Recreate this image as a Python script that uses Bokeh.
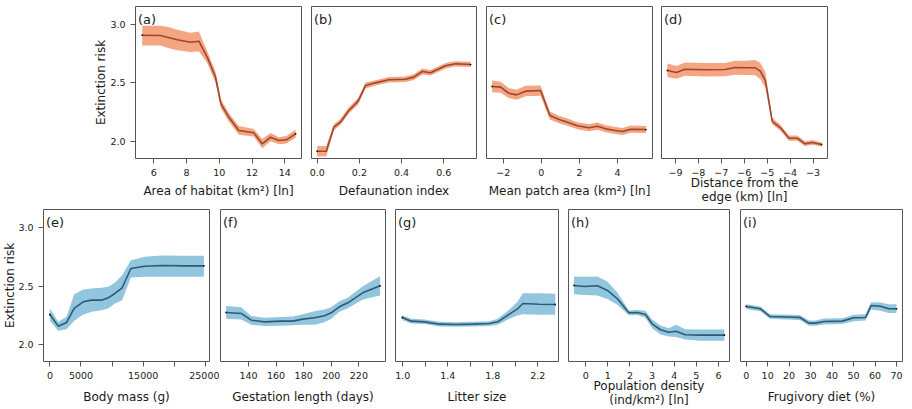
from bokeh.plotting import figure
from bokeh.layouts import row, column
from bokeh.models import Range1d, FixedTicker, Label
from bokeh.embed import file_html
from bokeh.resources import INLINE

# ---------------- data ----------------
# (a) Area of habitat (km2) [ln]
x_a = [5.29, 6.41, 6.82, 7.43, 8.24, 8.75, 9.26, 9.77, 10.1, 10.58, 11.19, 12.1, 12.62, 13.13, 13.64, 14.1, 14.66]
y_a = [2.908, 2.906, 2.89, 2.869, 2.848, 2.857, 2.72, 2.548, 2.32, 2.206, 2.092, 2.072, 1.978, 2.034, 2.006, 2.012, 2.063]
lo_a = [2.82, 2.82, 2.80, 2.78, 2.765, 2.77, 2.67, 2.50, 2.28, 2.17, 2.055, 2.04, 1.94, 2.00, 1.975, 1.98, 2.03]
hi_a = [2.99, 2.99, 2.98, 2.955, 2.93, 2.94, 2.77, 2.595, 2.36, 2.24, 2.13, 2.105, 2.02, 2.07, 2.035, 2.045, 2.10]

# (b) Defaunation index
x_b = [0.0, 0.043, 0.079, 0.11, 0.15, 0.194, 0.229, 0.276, 0.339, 0.418, 0.458, 0.498, 0.537, 0.608, 0.655, 0.727]
y_b = [1.914, 1.914, 2.12, 2.163, 2.263, 2.343, 2.477, 2.50, 2.526, 2.531, 2.549, 2.597, 2.586, 2.646, 2.663, 2.657]
lo_b = [1.87, 1.87, 2.095, 2.138, 2.238, 2.315, 2.452, 2.477, 2.503, 2.508, 2.525, 2.572, 2.562, 2.622, 2.64, 2.635]
hi_b = [1.96, 1.96, 2.145, 2.19, 2.29, 2.37, 2.502, 2.523, 2.55, 2.555, 2.573, 2.622, 2.61, 2.67, 2.686, 2.68]

# (c) Mean patch area (km2) [ln]
x_c = [-2.58, -2.14, -1.71, -1.30, -0.83, -0.04, 0.45, 0.93, 1.37, 1.89, 2.5, 2.95, 3.38, 3.82, 4.26, 4.7, 5.49]
y_c = [2.469, 2.463, 2.411, 2.397, 2.429, 2.434, 2.22, 2.186, 2.163, 2.132, 2.115, 2.129, 2.106, 2.094, 2.083, 2.103, 2.10]
lo_c = [2.42, 2.415, 2.37, 2.355, 2.385, 2.39, 2.185, 2.155, 2.133, 2.102, 2.085, 2.099, 2.076, 2.064, 2.053, 2.072, 2.07]
hi_c = [2.52, 2.51, 2.455, 2.44, 2.475, 2.478, 2.255, 2.218, 2.194, 2.162, 2.145, 2.16, 2.136, 2.124, 2.113, 2.135, 2.13]

# (d) Distance from the edge (km) [ln]
x_d = [-9.35, -8.96, -8.59, -7.71, -6.83, -6.40, -5.96, -5.52, -5.30, -5.08, -4.78, -4.42, -4.05, -3.69, -3.35, -3.03, -2.63]
y_d = [2.606, 2.589, 2.617, 2.612, 2.614, 2.632, 2.629, 2.629, 2.60, 2.52, 2.171, 2.115, 2.026, 2.026, 1.978, 1.989, 1.972]
lo_d = [2.55, 2.535, 2.56, 2.555, 2.557, 2.57, 2.567, 2.565, 2.53, 2.46, 2.145, 2.09, 2.005, 2.005, 1.958, 1.97, 1.955]
hi_d = [2.665, 2.645, 2.675, 2.67, 2.67, 2.69, 2.69, 2.695, 2.67, 2.59, 2.2, 2.14, 2.05, 2.048, 2.0, 2.01, 1.99]

# (e) Body mass (g)
x_e = [0, 1340, 2680, 3900, 5360, 6690, 8300, 9370, 10450, 11620, 13020, 15270, 17940, 21700, 24760]
y_e = [2.257, 2.157, 2.189, 2.309, 2.366, 2.38, 2.38, 2.40, 2.437, 2.486, 2.651, 2.671, 2.677, 2.674, 2.674]
lo_e = [2.203, 2.117, 2.131, 2.203, 2.257, 2.28, 2.294, 2.308, 2.351, 2.38, 2.574, 2.58, 2.58, 2.58, 2.58]
hi_e = [2.308, 2.194, 2.237, 2.431, 2.471, 2.48, 2.486, 2.494, 2.529, 2.594, 2.722, 2.751, 2.763, 2.76, 2.76]

# (f) Gestation length (days)
x_f = [123.8, 134.7, 142, 151.6, 163.7, 172.1, 179.4, 187.8, 195.1, 199.9, 205.9, 212, 222.8, 235.4]
y_f = [2.274, 2.266, 2.208, 2.194, 2.2, 2.2, 2.217, 2.229, 2.246, 2.271, 2.323, 2.357, 2.443, 2.503]
lo_f = [2.22, 2.215, 2.17, 2.158, 2.16, 2.165, 2.17, 2.17, 2.19, 2.22, 2.28, 2.31, 2.385, 2.42]
hi_f = [2.33, 2.32, 2.245, 2.23, 2.235, 2.24, 2.26, 2.285, 2.30, 2.32, 2.37, 2.40, 2.50, 2.585]

# (g) Litter size
x_g = [0.995, 1.075, 1.193, 1.327, 1.475, 1.623, 1.771, 1.845, 1.949, 2.023, 2.068, 2.216, 2.356]
y_g = [2.231, 2.2, 2.194, 2.174, 2.171, 2.174, 2.18, 2.194, 2.26, 2.308, 2.351, 2.345, 2.343]
lo_g = [2.21, 2.18, 2.175, 2.155, 2.152, 2.155, 2.158, 2.168, 2.22, 2.25, 2.26, 2.255, 2.255]
hi_g = [2.25, 2.22, 2.213, 2.194, 2.19, 2.195, 2.2, 2.22, 2.30, 2.37, 2.44, 2.44, 2.435]

# (h) Population density (ind/km2) [ln]
x_h = [-0.53, -0.07, 0.53, 0.98, 1.43, 1.95, 2.33, 2.70, 3.0, 3.38, 3.75, 4.08, 4.5, 5.18, 6.27]
y_h = [2.506, 2.497, 2.503, 2.463, 2.392, 2.272, 2.274, 2.257, 2.177, 2.126, 2.105, 2.114, 2.083, 2.08, 2.08]
lo_h = [2.43, 2.425, 2.42, 2.39, 2.34, 2.25, 2.252, 2.23, 2.14, 2.085, 2.068, 2.063, 2.043, 2.032, 2.032]
hi_h = [2.583, 2.58, 2.583, 2.54, 2.445, 2.292, 2.296, 2.29, 2.215, 2.163, 2.14, 2.169, 2.13, 2.128, 2.128]

# (i) Frugivory diet (%)
x_i = [0, 6.66, 11, 16, 25, 29.2, 32.3, 36.2, 44.7, 50.1, 55.6, 58.2, 62.5, 66.4, 70]
y_i = [2.326, 2.306, 2.24, 2.237, 2.231, 2.183, 2.183, 2.197, 2.2, 2.229, 2.231, 2.334, 2.328, 2.306, 2.306]
lo_i = [2.305, 2.285, 2.22, 2.217, 2.21, 2.16, 2.16, 2.172, 2.175, 2.2, 2.205, 2.3, 2.29, 2.27, 2.27]
hi_i = [2.345, 2.325, 2.26, 2.257, 2.252, 2.205, 2.205, 2.222, 2.225, 2.255, 2.258, 2.362, 2.36, 2.345, 2.345]

# tick positions and labels
y_ticks = [2.0, 2.5, 3.0]
y_tick_labels = ["2.0", "2.5", "3.0"]
ticks_a = [6, 8, 10, 12, 14]
labels_a = ["6", "8", "10", "12", "14"]
ticks_b = [0.0, 0.2, 0.4, 0.6]
labels_b = ["0.0", "0.2", "0.4", "0.6"]
ticks_c = [-2, 0, 2, 4]
labels_c = ["\u22122", "0", "2", "4"]
ticks_d = [-9, -8, -7, -6, -5, -4, -3]
labels_d = ["\u22129", "\u22128", "\u22127", "\u22126", "\u22125", "\u22124", "\u22123"]
ticks_e = [0, 5000, 10000, 15000, 20000, 25000]
labels_e = ["0", "5000", "", "15000", "", "25000"]
ticks_f = [140, 160, 180, 200, 220]
labels_f = ["140", "160", "180", "200", "220"]
ticks_g = [1.0, 1.2, 1.4, 1.6, 1.8, 2.0, 2.2, 2.4]
labels_g = ["1.0", "", "1.4", "", "1.8", "", "2.2", ""]
ticks_h = [0, 1, 2, 3, 4, 5, 6]
labels_h = ["0", "1", "2", "3", "4", "5", "6"]
ticks_i = [0, 10, 20, 30, 40, 50, 60, 70]
labels_i = ["0", "10", "20", "30", "40", "50", "60", "70"]

x_titles = {
    "a": "Area of habitat (km\u00b2) [ln]",
    "b": "Defaunation index",
    "c": "Mean patch area (km\u00b2) [ln]",
    "d": "Distance from the\nedge (km) [ln]",
    "e": "Body mass (g)",
    "f": "Gestation length (days)",
    "g": "Litter size",
    "h": "Population density\n(ind/km\u00b2) [ln]",
    "i": "Frugivory diet (%)",
}
y_title = "Extinction risk"

# ---------------- styling ----------------
FONT = "DejaVu Sans"
TXT = "#1a1a1a"
BOX = "#555555"
BAND_TOP = "#f4a582"
LINE_TOP = "#a0452e"
BAND_BOT = "#92c5de"
LINE_BOT = "#2e5a72"

TOP_YR = (1.852, 3.154)
BOT_YR = (1.854, 3.157)


def panel(letter, x, y, lo, hi, xr, yr, ticks, tlabels, band, line,
          width, height, bl, br, bt, bb, xlab_standoff,
          with_y=False, ylab_standoff=0, lab_line_height=1.05):
    p = figure(width=width, height=height,
               x_range=Range1d(*xr), y_range=Range1d(*yr),
               toolbar_location=None, output_backend="svg",
               y_axis_location="left" if with_y else None,
               min_border_left=bl, min_border_right=br,
               min_border_top=bt, min_border_bottom=bb)
    p.grid.grid_line_color = None
    p.background_fill_color = "white"
    p.border_fill_color = "white"
    p.outline_line_color = BOX
    p.outline_line_width = 1

    p.varea(x=x, y1=lo, y2=hi, fill_color=band, fill_alpha=1.0)
    p.line(x=x, y=y, line_color=line, line_width=1.6)
    p.scatter(x=[x[0], x[-1]], y=[y[0], y[-1]], size=1.8,
              fill_color="#111111", line_color=None)

    axes = list(p.xaxis) + (list(p.yaxis) if with_y else [])
    for ax in axes:
        ax.axis_line_color = None
        ax.major_tick_line_color = BOX
        ax.major_tick_out = 5
        ax.major_tick_in = 0
        ax.minor_tick_line_color = None
        ax.major_label_text_font = FONT
        ax.major_label_text_font_size = "9.5px"
        ax.major_label_text_color = TXT
        ax.major_label_standoff = 5
        ax.axis_label_text_font = FONT
        ax.axis_label_text_font_size = "12px"
        ax.axis_label_text_font_style = "normal"
        ax.axis_label_text_color = TXT
        ax.axis_label_text_line_height = lab_line_height
    p.xaxis.ticker = FixedTicker(ticks=ticks)
    p.xaxis.major_label_overrides = dict(zip(ticks, tlabels))
    p.xaxis.axis_label = x_titles[letter]
    p.xaxis.axis_label_standoff = xlab_standoff
    if with_y:
        p.yaxis.ticker = FixedTicker(ticks=y_ticks)
        p.yaxis.major_label_overrides = dict(zip(y_ticks, y_tick_labels))
        p.yaxis.axis_label = y_title
        p.yaxis.axis_label_standoff = ylab_standoff

    p.add_layout(Label(x=xr[0], y=yr[1], x_offset=2.5, y_offset=-5.1,
                       text="(%s)" % letter, text_baseline="top",
                       text_align="left", text_font=FONT,
                       text_font_size="13px", text_color=TXT))
    return p


TH, BH = 207, 202
pa = panel("a", x_a, y_a, lo_a, hi_a, (4.88, 15.02), TOP_YR, ticks_a, labels_a,
           BAND_TOP, LINE_TOP, 306, TH, 135, 5, 6, 49, 5,
           with_y=True, ylab_standoff=-1)
pb = panel("b", x_b, y_b, lo_b, hi_b, (-0.027, 0.755), TOP_YR, ticks_b, labels_b,
           BAND_TOP, LINE_TOP, 175, TH, 5, 5, 6, 49, 5)
pc = panel("c", x_c, y_c, lo_c, hi_c, (-2.88, 5.84), TOP_YR, ticks_c, labels_c,
           BAND_TOP, LINE_TOP, 175, TH, 5, 4, 6, 49, 5)
pd = panel("d", x_d, y_d, lo_d, hi_d, (-9.61, -2.37), TOP_YR, ticks_d, labels_d,
           BAND_TOP, LINE_TOP, 176, TH, 5, 5, 6, 49, -3)

pe = panel("e", x_e, y_e, lo_e, hi_e, (-1029, 25660), BOT_YR, ticks_e, labels_e,
           BAND_BOT, LINE_BOT, 219, BH, 43, 10, 2, 48, 8,
           with_y=True, ylab_standoff=-2)
pf = panel("f", x_f, y_f, lo_f, hi_f, (119.7, 239.3), BOT_YR, ticks_f, labels_f,
           BAND_BOT, LINE_BOT, 171, BH, 1, 5, 2, 48, 8)
pg = panel("g", x_g, y_g, lo_g, hi_g, (0.935, 2.385), BOT_YR, ticks_g, labels_g,
           BAND_BOT, LINE_BOT, 173, BH, 5, 5, 2, 48, 8)
ph = panel("h", x_h, y_h, lo_h, hi_h, (-0.78, 6.5), BOT_YR, ticks_h, labels_h,
           BAND_BOT, LINE_BOT, 172, BH, 5, 6, 2, 48, -3, lab_line_height=1.0)
pi = panel("i", x_i, y_i, lo_i, hi_i, (-2.65, 72.8), BOT_YR, ticks_i, labels_i,
           BAND_BOT, LINE_BOT, 177, BH, 5, 10, 2, 48, 8)

layout = column(row(pa, pb, pc, pd), row(pe, pf, pg, ph, pi))

open("out.html", "w").write(file_html(layout, INLINE))
